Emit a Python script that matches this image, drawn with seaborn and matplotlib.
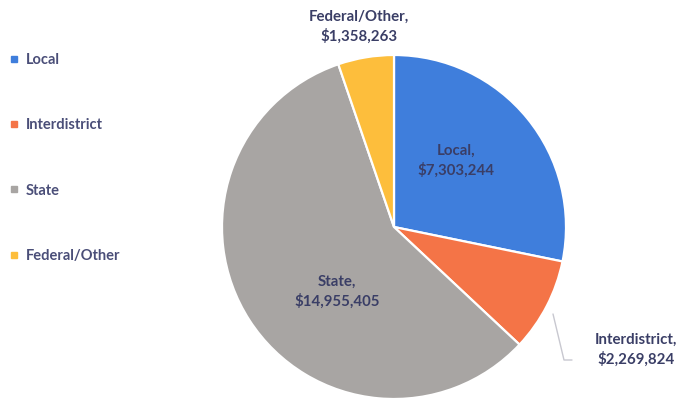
import matplotlib
matplotlib.use("Agg")
import matplotlib.pyplot as plt
from matplotlib.lines import Line2D
import seaborn as sns

# Revenue by source
categories = ["Local", "Interdistrict", "State", "Federal/Other"]
amounts = [7303244, 2269824, 14955405, 1358263]
colors = ["#3F7EDC", "#F47447", "#A8A5A3", "#FDBE3C"]

sns.set_theme(style="white")
plt.rcParams["font.family"] = ["Lato", "DejaVu Sans"]
text_color = "#3A3E66"

W, H = 688, 399
fig = plt.figure(figsize=(W / 100, H / 100), dpi=100)
ax = fig.add_axes([0, 0, 1, 1])

cx, cy, r = 394, H - 227, 172
wedges, _ = ax.pie(
    amounts, colors=colors, startangle=90, counterclock=False,
    center=(cx, cy), radius=r, frame=True,
    wedgeprops=dict(edgecolor="white", linewidth=1.6),
)
ax.set_xlim(0, W)
ax.set_ylim(0, H)
ax.set_aspect("equal")
ax.axis("off")

labels = [f"{c},\n${v:,.0f}" for c, v in zip(categories, amounts)]

# label anchor positions (pixels from top-left)
label_pos = {
    "Local": (456, 161),
    "Interdistrict": (636, 350),
    "State": (337, 292),
    "Federal/Other": (359, 27),
}
for cat, lab in zip(categories, labels):
    x, y = label_pos[cat]
    ax.text(x, H - y, lab, ha="center", va="center", fontsize=10.8,
            fontweight="bold", color=text_color, linespacing=1.4)

# leader line for the small Interdistrict slice
ax.plot([553, 564, 572], [H - 314, H - 360, H - 360], color="#C8C8D0", lw=1)

handles = [Line2D([0], [0], marker="s", linestyle="", markersize=4,
                  markerfacecolor=c, markeredgecolor=c) for c in colors]
leg = fig.legend(handles, categories, loc="upper left",
                 bbox_to_anchor=(4 / W, 1 - 47 / H), frameon=False,
                 prop=dict(size=10.5, weight="bold"), labelspacing=3.52,
                 handlelength=0.6, handletextpad=0.5, borderaxespad=0)
for t in leg.get_texts():
    t.set_color("#4A4E78")

fig.savefig("out.png", dpi=100)
